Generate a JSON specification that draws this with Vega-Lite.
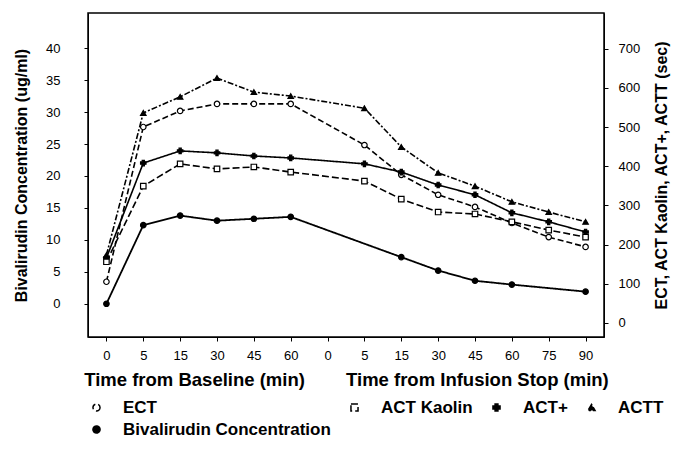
{
  "$schema": "https://vega.github.io/schema/vega-lite/v6.json",
  "width": 516,
  "height": 324,
  "autosize": "none",
  "padding": {"left": 88, "top": 13, "right": 78, "bottom": 118},
  "background": "white",
  "config": {
    "font": "Liberation Sans",
    "view": {"stroke": "black", "strokeWidth": 1.5},
    "axis": {"labelColor": "black", "titleColor": "black", "domainColor": "black", "tickColor": "black", "labelFontSize": 13, "titleFontSize": 16, "titleFontWeight": "bold", "grid": false, "tickSize": 4},
    "legend": {"orient": "bottom", "direction": "horizontal", "columns": 4, "gridAlign": "none", "labelFontSize": 17, "labelFontWeight": "bold", "labelColor": "black", "labelLimit": 0, "symbolStrokeColor": "black", "symbolSize": 50, "symbolStrokeWidth": 1.5, "labelOffset": 18, "columnPadding": 15, "rowPadding": 4, "offset": 10}
  },
  "data": {"values": [
    {"series": "Bivalirudin Concentration", "t": "B0", "v": 0},
    {"series": "Bivalirudin Concentration", "t": "B5", "v": 12.3},
    {"series": "Bivalirudin Concentration", "t": "B15", "v": 13.8},
    {"series": "Bivalirudin Concentration", "t": "B30", "v": 13.0},
    {"series": "Bivalirudin Concentration", "t": "B45", "v": 13.3},
    {"series": "Bivalirudin Concentration", "t": "B60", "v": 13.6},
    {"series": "Bivalirudin Concentration", "t": "S15", "v": 7.3},
    {"series": "Bivalirudin Concentration", "t": "S30", "v": 5.2},
    {"series": "Bivalirudin Concentration", "t": "S45", "v": 3.6},
    {"series": "Bivalirudin Concentration", "t": "S60", "v": 3.0},
    {"series": "Bivalirudin Concentration", "t": "S90", "v": 1.9},
    {"series": "ACTT", "t": "B0", "v": 173},
    {"series": "ACTT", "t": "B5", "v": 536},
    {"series": "ACTT", "t": "B15", "v": 577},
    {"series": "ACTT", "t": "B30", "v": 625},
    {"series": "ACTT", "t": "B45", "v": 589},
    {"series": "ACTT", "t": "B60", "v": 579},
    {"series": "ACTT", "t": "S5", "v": 548},
    {"series": "ACTT", "t": "S15", "v": 449},
    {"series": "ACTT", "t": "S30", "v": 383},
    {"series": "ACTT", "t": "S45", "v": 349},
    {"series": "ACTT", "t": "S60", "v": 309},
    {"series": "ACTT", "t": "S75", "v": 283},
    {"series": "ACTT", "t": "S90", "v": 258},
    {"series": "ECT", "t": "B0", "v": 105},
    {"series": "ECT", "t": "B5", "v": 500},
    {"series": "ECT", "t": "B15", "v": 541},
    {"series": "ECT", "t": "B30", "v": 559},
    {"series": "ECT", "t": "B45", "v": 559},
    {"series": "ECT", "t": "B60", "v": 559},
    {"series": "ECT", "t": "S5", "v": 454},
    {"series": "ECT", "t": "S15", "v": 378},
    {"series": "ECT", "t": "S30", "v": 327},
    {"series": "ECT", "t": "S45", "v": 296},
    {"series": "ECT", "t": "S60", "v": 255},
    {"series": "ECT", "t": "S75", "v": 219},
    {"series": "ECT", "t": "S90", "v": 194},
    {"series": "ACT+", "t": "B0", "v": 166},
    {"series": "ACT+", "t": "B5", "v": 408},
    {"series": "ACT+", "t": "B15", "v": 439},
    {"series": "ACT+", "t": "B30", "v": 434},
    {"series": "ACT+", "t": "B45", "v": 426},
    {"series": "ACT+", "t": "B60", "v": 421},
    {"series": "ACT+", "t": "S5", "v": 406},
    {"series": "ACT+", "t": "S15", "v": 385},
    {"series": "ACT+", "t": "S30", "v": 352},
    {"series": "ACT+", "t": "S45", "v": 327},
    {"series": "ACT+", "t": "S60", "v": 281},
    {"series": "ACT+", "t": "S75", "v": 258},
    {"series": "ACT+", "t": "S90", "v": 232},
    {"series": "ACT Kaolin", "t": "B0", "v": 156},
    {"series": "ACT Kaolin", "t": "B5", "v": 349},
    {"series": "ACT Kaolin", "t": "B15", "v": 406},
    {"series": "ACT Kaolin", "t": "B30", "v": 393},
    {"series": "ACT Kaolin", "t": "B45", "v": 398},
    {"series": "ACT Kaolin", "t": "B60", "v": 385},
    {"series": "ACT Kaolin", "t": "S5", "v": 362},
    {"series": "ACT Kaolin", "t": "S15", "v": 316},
    {"series": "ACT Kaolin", "t": "S30", "v": 283},
    {"series": "ACT Kaolin", "t": "S45", "v": 278},
    {"series": "ACT Kaolin", "t": "S60", "v": 258},
    {"series": "ACT Kaolin", "t": "S75", "v": 237},
    {"series": "ACT Kaolin", "t": "S90", "v": 219}
  ]},
  "encoding": {
    "x": {
      "field": "t", "type": "ordinal",
      "scale": {"type": "point", "padding": 0.5, "domain": ["B0","B5","B15","B30","B45","B60","S0","S5","S15","S30","S45","S60","S75","S90"]},
      "sort": null,
      "axis": {"title": "Time from Baseline (min)\u00a0\u00a0\u00a0\u00a0\u00a0\u00a0\u00a0\u00a0Time from Infusion Stop (min)", "titleFontSize": 18.5, "labelExpr": "substring(datum.value, 1)", "labelAngle": 0, "labelPadding": 8, "titlePadding": 8}
    },
    "stroke": {
      "field": "series", "type": "nominal",
      "scale": {"domain": ["ECT", "ACT Kaolin", "ACT+", "ACTT", "Bivalirudin Concentration"], "range": ["black", "black", "black", "black", "black"]},
      "legend": {"title": null, "gridAlign": "none"}
    }
  },
  "layer": [
    {
      "transform": [{"filter": "datum.series === 'Bivalirudin Concentration'"}],
      "encoding": {
        "y": {"field": "v", "type": "quantitative", "scale": {"domain": [-5.2, 45.5], "nice": false, "zero": false},
          "axis": {"orient": "left", "values": [0,5,10,15,20,25,30,35,40], "title": "Bivalirudin Concentration (ug/ml)", "labelPadding": 24, "titlePadding": 16}}
      },
      "layer": [
        {"mark": {"type": "line", "strokeWidth": 1.8},
          "encoding": {"strokeDash": {"field": "series", "type": "nominal",
            "scale": {"domain": ["ECT", "ACT Kaolin", "ACT+", "ACTT", "Bivalirudin Concentration"], "range": [[6,3],[7,3],[1,0],[6,2,2,2],[1,0]]}, "legend": {"title": null, "gridAlign": "none"}}}},
        {"mark": {"type": "point", "strokeWidth": 1.2, "size": 30, "opacity": 1},
          "encoding": {
            "shape": {"field": "series", "type": "nominal",
              "scale": {"domain": ["ECT", "ACT Kaolin", "ACT+", "ACTT", "Bivalirudin Concentration"], "range": ["circle", "square", "cross", "triangle-up", "circle"]},
              "legend": {"title": null, "gridAlign": "none"}},
            "fill": {"field": "series", "type": "nominal",
              "scale": {"domain": ["ECT", "ACT Kaolin", "ACT+", "ACTT", "Bivalirudin Concentration"], "range": ["white", "white", "black", "black", "black"]},
              "legend": {"title": null, "gridAlign": "none"}}
          }}
      ]
    },
    {
      "transform": [{"filter": "datum.series !== 'Bivalirudin Concentration'"}],
      "encoding": {
        "y": {"field": "v", "type": "quantitative", "scale": {"domain": [-36, 791], "nice": false, "zero": false},
          "axis": {"orient": "right", "values": [0,100,200,300,400,500,600,700], "title": "ECT, ACT Kaolin, ACT+, ACTT (sec)", "titleAngle": 270, "labelPadding": 10, "titlePadding": 30}}
      },
      "layer": [
        {"mark": {"type": "line", "strokeWidth": 1.6},
          "encoding": {"strokeDash": {"field": "series", "type": "nominal",
            "scale": {"domain": ["ECT", "ACT Kaolin", "ACT+", "ACTT", "Bivalirudin Concentration"], "range": [[6,3],[7,3],[1,0],[6,2,2,2],[1,0]]}, "legend": {"title": null, "gridAlign": "none"}}}},
        {"mark": {"type": "point", "strokeWidth": 1.2, "size": 30, "opacity": 1},
          "encoding": {
            "shape": {"field": "series", "type": "nominal",
              "scale": {"domain": ["ECT", "ACT Kaolin", "ACT+", "ACTT", "Bivalirudin Concentration"], "range": ["circle", "square", "cross", "triangle-up", "circle"]},
              "legend": {"title": null, "gridAlign": "none"}},
            "fill": {"field": "series", "type": "nominal",
              "scale": {"domain": ["ECT", "ACT Kaolin", "ACT+", "ACTT", "Bivalirudin Concentration"], "range": ["white", "white", "black", "black", "black"]},
              "legend": {"title": null, "gridAlign": "none"}}
          }}
      ]
    }
  ],
  "resolve": {"scale": {"y": "independent"}}
}
